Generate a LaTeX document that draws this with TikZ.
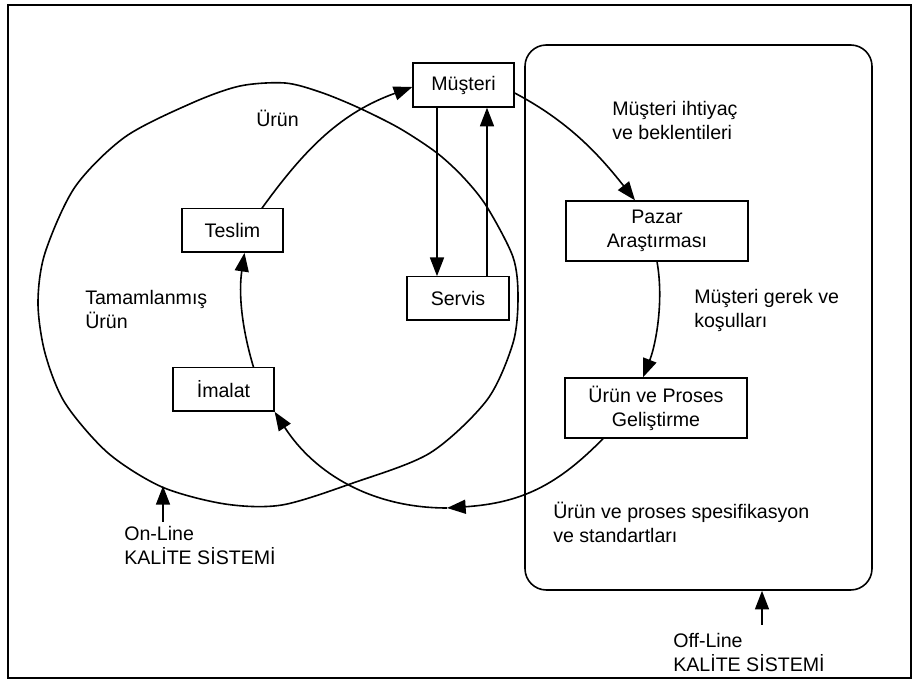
\documentclass[tikz,border=0pt]{standalone}
\usepackage{fontspec}
\setmainfont{Liberation Sans}
\usetikzlibrary{arrows.meta,calc}
\newcommand\dfont{\fontsize{14.7}{18}\selectfont}
\begin{document}
\begin{tikzpicture}[x=0.75pt,y=-0.75pt,
  box/.style={draw,line width=1pt,inner sep=0pt,minimum width=75.75pt,minimum height=32.5pt,align=center,font=\dfont},
  bigbox/.style={box,minimum width=136.5pt,minimum height=45pt},
  lbl/.style={inner sep=0pt,anchor=base west,align=left,font=\dfont},
  arr/.style={line width=1.2pt,-{Triangle[length=14pt,width=10.5pt]}},
  curve/.style={line width=1.2pt}]
\useasboundingbox (0,0) rectangle (915,680);
\draw[line width=1.5pt] (8,5) rectangle (911,678);
% off-line rounded box
\node[draw,line width=1.2pt,rounded corners=16pt,minimum width=260.25pt,minimum height=408.75pt,inner sep=0pt] (offbox) at (698.5,317.5) {};
% big loop (on-line)
\draw[curve] plot[smooth cycle,tension=0.5] coordinates {(192,103) (240,86) (285,83) (320,92) (357,107) (399,128) (437,153) (464,178) (487,207) (513,257) (518,297) (513,343) (487,400) (430,453) (353,483) (282,505) (225,504) (162,487) (108,453) (65,403) (45,353) (38,303) (45,253) (75,187) (125,137)};
% boxes
\node[box,minimum height=33pt] (musteri) at (463.5,85) {Müşteri};
\node[box] (teslim) at (232.5,230.5) {Teslim};
\node[box,minimum width=76.5pt] (servis) at (458,298.5) {Servis};
\node[box] (imalat) at (223.5,389.5) {İmalat};
\node[bigbox] (pazar) at (657,231) {Pazar\\Araştırması};
\node[bigbox] (gelis) at (656,408) {Ürün ve Proses\\Geliştirme};
% cycle arrows
\draw[arr] ($(imalat.north)+(30,0)$) .. controls +(-12,-40) and +(-6,40) .. ($(teslim.south)+(12,0)$);
\draw[arr] ($(teslim.north)+(29.5,0)$) .. controls +(44,-61) and +(-70.5,25.5) .. ($(musteri.west)+(0,2)$);
\draw[arr] ($(musteri.east)+(0,8)$) .. controls +(53,28) and +(-37,-47) .. ($(pazar.north)+(-22,0)$);
\draw[arr] (pazar.south) .. controls +(7,39) and +(13,-33) .. ($(gelis.north)+(-13,0)$);
\coordinate (mid) at (447,508);
\draw[arr] ($(gelis.south)+(-53,0)$) .. controls +(-45,46) and +(75,-5) .. (mid);
\draw[arr] (mid) .. controls +(-75,0) and +(40,62) .. (imalat.south east);
% servis arrows
\draw[arr] ($(musteri.south)+(-26.5,0)$) -- ($(servis.north)+(-21,0)$);
\draw[arr] ($(servis.north)+(29,0)$) -- ($(musteri.south)+(23.5,0)$);
% system arrows
\coordinate (onb) at (163,522);
\coordinate (ont) at (163,486);
\draw[arr] (onb) -- (ont);
\coordinate (offb) at (762,625);
\draw[arr] (offb) -- ($(offbox.south)+(63.5,0)$);
% labels (anchor at baseline of last line)
\node[lbl] (lurun) at (256,127) {Ürün};
\node[lbl] (ltam) at (85,329) {Tamamlanmış\\Ürün};
\node[lbl] (lihti) at (612,140) {Müşteri ihtiyaç\\ve beklentileri};
\node[lbl] (lgerek) at (694,328) {Müşteri gerek ve\\koşulları};
\node[lbl] (lspec) at (553,543) {Ürün ve proses spesifikasyon\\ve standartları};
\node[lbl] (lon) at (124,565) {On-Line\\KALİTE SİSTEMİ};
\node[lbl] (loff) at (673,672) {Off-Line\\KALİTE SİSTEMİ};
\end{tikzpicture}
\end{document}
